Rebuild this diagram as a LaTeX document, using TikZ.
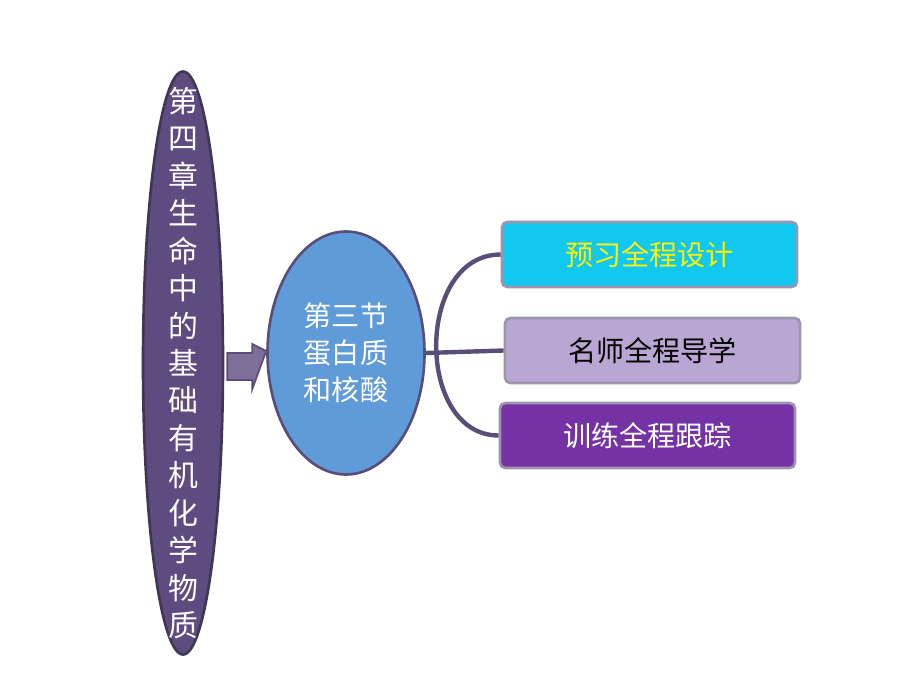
\documentclass[tikz,border=0pt]{standalone}
\usepackage{fontspec}
\newfontfamily\cjk{Noto Sans CJK SC}
\usetikzlibrary{shapes, positioning, calc}
\definecolor{chapfill}{HTML}{5E4B80}
\definecolor{secfill}{HTML}{5F9AD9}
\definecolor{linkcol}{HTML}{5A4E78}
\definecolor{prefill}{HTML}{10C8F0}
\definecolor{teafill}{HTML}{B9A6D2}
\definecolor{trafill}{HTML}{7432A4}
\tikzset{
    chapnode/.style = {draw=linkcol!70!black, line width=1.5pt, ellipse, fill=chapfill, inner sep=0em,
      minimum width=1.6cm, minimum height=11.66cm},
    chaptext/.style = {text=white, inner sep=0em, font=\cjk\fontsize{17pt}{21.3pt}\selectfont, align=center},
    secnode/.style = {draw=linkcol, line width=1.5pt, ellipse, fill=secfill, inner sep=0em,
      text=white, font=\cjk\fontsize{16pt}{21pt}\selectfont, align=center},
    boxnode/.style = {draw=linkcol!60, line width=1.5pt, rectangle, rounded corners=0.3em,
      minimum width=5.9cm, minimum height=1.3cm, font=\cjk\fontsize{16pt}{18pt}\selectfont},
    link/.style = {draw=linkcol, line width=2.5pt}
}
\begin{document}
\begin{tikzpicture}
    \useasboundingbox (0,0) rectangle (18.4,-13.8);
    \node [name=chap, chapnode] at (3.66,-7.26) {};
    \node [name=chapt, chaptext] at (chap.center)
      {第\\四\\章\\生\\命\\中\\的\\基\\础\\有\\机\\化\\学\\物\\质};
    \node [name=sec, secnode, minimum width=3.14cm, minimum height=4.86cm] at (6.92,-7.06)
      {第三节\\蛋白质\\和核酸};
    \node [name=pre, boxnode, fill=prefill, text=yellow] at (12.99,-5.09) {预习全程设计};
    \node [name=tea, boxnode, fill=teafill, text=black] at (13.05,-7.01) {名师全程导学};
    \node [name=tra, boxnode, fill=trafill, text=white] at (12.95,-8.71) {训练全程跟踪};

    % block arrow between the ellipses
    \draw [draw=linkcol, fill=chapfill!80, line width=1pt]
      ($(chap.east)+(0.06,0.2)$) -- ++(0.5,0) -- ++(0,0.18) -- ($(sec.west)+(0,0.04)$)
      -- ($(chap.east)+(0.56,-0.52)$) -- ++(0,0.18) -- ++(-0.5,0) -- cycle;

    % bracket to the boxes
    \draw [link] (sec.east) -- (tea.west);
    \draw [link] (pre.west) .. controls (8.3,-5.09) and (8.3,-8.71) .. (tra.west);
\end{tikzpicture}
\end{document}
